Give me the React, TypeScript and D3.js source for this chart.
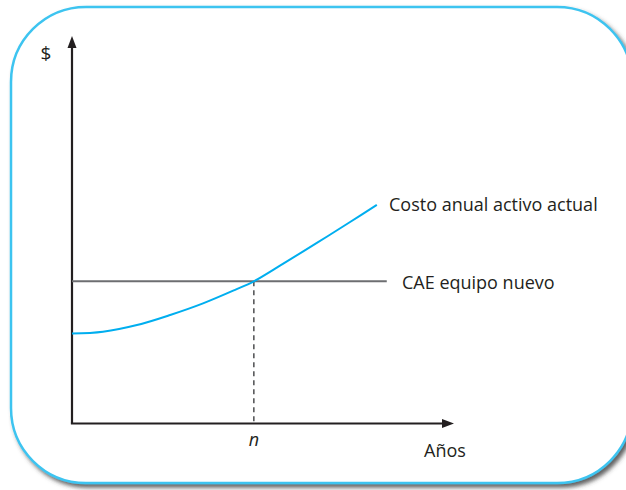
import React from 'react';
import * as d3 from 'd3';

const width = 626;
const height = 490;

// curve "Costo anual activo actual" (x: years, y: $)
const curveX = [0, 8.1, 17.0, 25.7, 34.3, 42.7, 47.6, 55.2, 64.1, 72.8, 79.8];
const curveY = [23.2, 23.7, 25.4, 28.0, 31.0, 34.5, 36.7, 41.2, 46.6, 52.0, 56.4];
// CAE equipo nuevo (flat)
const caeValue = 36.7;
const caeEnd = 82.4;
const nValue = 47.6;

const labels = {
  y: '$',
  x: 'Años',
  n: 'n',
  curve: 'Costo anual activo actual',
  cae: 'CAE equipo nuevo',
};

const font = '"Open Sans", sans-serif';

export default function App() {
  const x = d3.scaleLinear().domain([0, 100]).range([72, 454]);
  const y = d3.scaleLinear().domain([0, 100]).range([423.5, 36]);

  const pts = curveX.map((v, i) => [v, curveY[i]] as [number, number]);
  const line = d3
    .line<[number, number]>()
    .x((d) => x(d[0]))
    .y((d) => y(d[1]))
    .curve(d3.curveCatmullRom);

  const x0 = x(0);
  const y0 = y(0);
  const yTop = y(100);
  const xEnd = x(100);

  return (
    <svg
      width={width}
      height={height}
      style={{ position: 'absolute', left: 0, top: 0, background: '#fff' }}
    >
      <defs>
        <filter id="shadow" x="-5%" y="-5%" width="115%" height="115%">
          <feDropShadow dx="3" dy="3.5" stdDeviation="2" floodColor="#3a3a3a" floodOpacity="0.8" />
        </filter>
      </defs>
      <rect
        x={11}
        y={7}
        width={621}
        height={476}
        rx={75}
        ry={75}
        fill="#fff"
        stroke="#3ec4f0"
        strokeWidth={2.5}
        filter="url(#shadow)"
      />

      {/* axes */}
      <line x1={x0} y1={y0} x2={x0} y2={yTop + 10} stroke="#231f20" strokeWidth={2.2} />
      <path
        d={`M${x0},${yTop} L${x0 - 4.5},${yTop + 12} L${x0 + 4.5},${yTop + 12} Z`}
        fill="#231f20"
      />
      <line x1={x0 - 1.1} y1={y0} x2={xEnd - 10} y2={y0} stroke="#231f20" strokeWidth={2.2} />
      <path
        d={`M${xEnd},${y0} L${xEnd - 12},${y0 - 4.5} L${xEnd - 12},${y0 + 4.5} Z`}
        fill="#231f20"
      />

      {/* CAE line */}
      <line
        x1={x0}
        x2={x(caeEnd)}
        y1={y(caeValue)}
        y2={y(caeValue)}
        stroke="#6d6e71"
        strokeWidth={2}
      />
      {/* dashed at n */}
      <line
        x1={x(nValue)}
        x2={x(nValue)}
        y1={y(caeValue)}
        y2={y0}
        stroke="#58595b"
        strokeWidth={1.6}
        strokeDasharray="5,4"
      />

      {/* curve */}
      <path d={line(pts) || ''} fill="none" stroke="#00aeef" strokeWidth={2} />

      {/* texts */}
      <g fontFamily={font} fontSize={18} fill="#231f20">
        <text x={46} y={60} textAnchor="middle" fontSize={19}>{labels.y}</text>
        <text x={445} y={457} textAnchor="middle">{labels.x}</text>
        <text x={x(nValue)} y={446} textAnchor="middle" fontStyle="italic">{labels.n}</text>
        <text x={389} y={211}>{labels.curve}</text>
        <text x={402} y={289}>{labels.cae}</text>
      </g>
    </svg>
  );
}
